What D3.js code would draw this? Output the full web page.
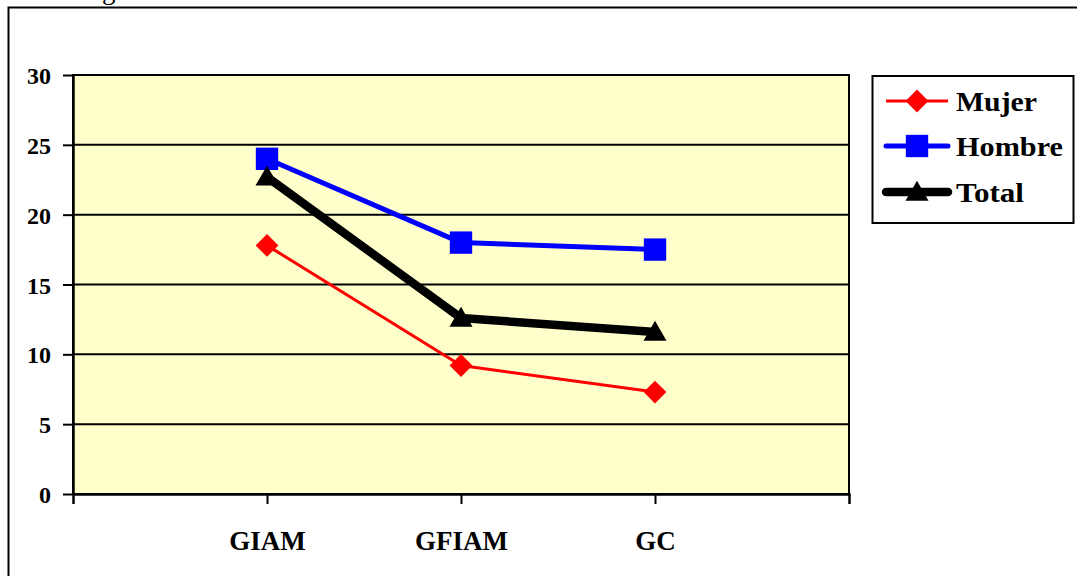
<!DOCTYPE html>
<html>
<head>
<meta charset="utf-8">
<script src="https://cdn.jsdelivr.net/npm/d3@7"></script>
<style>
  html, body { margin: 0; padding: 0; background: #fff; }
  svg { display: block; }
  svg text { font-family: "Liberation Serif", "DejaVu Serif", serif !important; font-weight: bold; fill: #000; }
</style>
</head>
<body>
<script>
// Categories and series values
const categories = ["GIAM", "GFIAM", "GC"];
const mujer  = [17.8, 9.2, 7.3];
const hombre = [24.0, 18.0, 17.5];
const total  = [22.7, 12.6, 11.6];
const yTicks = [0, 5, 10, 15, 20, 25, 30];
const seriesNames = ["Mujer", "Hombre", "Total"];

const W = 1077, H = 576;
const plot = { left: 73, right: 849, top: 75, bottom: 494 };
const FONT = "'Liberation Serif', 'DejaVu Serif', serif";

const svg = d3.select("body").append("svg")
  .attr("width", W).attr("height", H);

// Outer frame (extends past the bottom and right edges)
svg.append("path")
  .attr("d", `M8.5,${H + 5}V7.5H${W + 5}`)
  .attr("fill", "none").attr("stroke", "#000").attr("stroke-width", 2);

// Tail of the heading line above the frame
svg.append("text").attr("x", 102).attr("y", -1)
  .style("font-size", "27px").style("font-weight", "normal").text("g");

const x = d3.scalePoint().domain(categories).range([plot.left, plot.right]).padding(1);
const y = d3.scaleLinear().domain([0, 30]).range([plot.bottom, plot.top]);

// Plot background
svg.append("rect")
  .attr("x", plot.left).attr("y", plot.top)
  .attr("width", plot.right - plot.left).attr("height", plot.bottom - plot.top)
  .attr("fill", "#FFFFCC").attr("stroke", "#000").attr("stroke-width", 2);

// Horizontal gridlines
svg.append("g").selectAll("line")
  .data(yTicks.filter(d => d > 0))
  .join("line")
  .attr("x1", plot.left).attr("x2", plot.right)
  .attr("y1", d => y(d)).attr("y2", d => y(d))
  .attr("stroke", "#000").attr("stroke-width", 2);

// Y axis
const yAxis = svg.append("g")
  .attr("transform", `translate(${plot.left},0)`)
  .call(d3.axisLeft(y).tickValues(yTicks).tickSize(10).tickSizeOuter(0).tickPadding(12));
yAxis.attr("font-family", FONT);
yAxis.select(".domain").attr("stroke-width", 2.5);
yAxis.selectAll(".tick line").attr("stroke-width", 2);
yAxis.selectAll(".tick text")
  .style("font-size", "24px")
  .attr("dy", "0.36em");

// X axis: ticks at category positions plus the two ends
const xAxis = svg.append("g")
  .attr("transform", `translate(0,${plot.bottom})`)
  .call(d3.axisBottom(x).tickSize(10).tickSizeOuter(10).tickPadding(0));
xAxis.attr("font-family", FONT);
xAxis.select(".domain").attr("stroke-width", 2.5);
xAxis.selectAll(".tick line").attr("stroke-width", 2);
xAxis.selectAll(".tick text")
  .style("font-size", "27px")
  .attr("y", 56).attr("dy", 0);

// Marker shapes
const sym = {
  diamond: d3.symbol().type(d3.symbolSquare).size(260),
  square: d3.symbol().type(d3.symbolSquare).size(500),
  triangle: d3.symbol().type(d3.symbolTriangle).size(230)
};

const series = [
  { name: seriesNames[0], values: mujer,  color: "#FF0000", width: 3, marker: "diamond" },
  { name: seriesNames[1], values: hombre, color: "#0000FF", width: 5, marker: "square" },
  { name: seriesNames[2], values: total,  color: "#000000", width: 8.5, marker: "triangle" }
];

function drawMarker(g, s, cx, cy) {
  const p = g.append("path")
    .attr("d", sym[s.marker]())
    .attr("fill", s.color);
  if (s.marker === "diamond") p.attr("transform", `translate(${cx},${cy}) rotate(45)`);
  else if (s.marker === "triangle") p.attr("transform", `translate(${cx},${cy + 2})`);
  else p.attr("transform", `translate(${cx},${cy})`);
}

const line = d3.line().x((d, i) => x(categories[i])).y(d => y(d));

series.forEach(s => {
  const g = svg.append("g");
  g.append("path")
    .attr("d", line(s.values))
    .attr("fill", "none")
    .attr("stroke", s.color)
    .attr("stroke-width", s.width)
    .attr("stroke-linejoin", "round");
  s.values.forEach((v, i) => drawMarker(g, s, x(categories[i]), y(v)));
});

// Legend
const lg = svg.append("g");
lg.append("rect")
  .attr("x", 872.5).attr("y", 76).attr("width", 201).attr("height", 147)
  .attr("fill", "#fff").attr("stroke", "#000").attr("stroke-width", 2);
const legendRows = [101, 146, 192];
const legendWidths = [81, 107, 68];
series.forEach((s, i) => {
  const cy = legendRows[i];
  lg.append("line")
    .attr("x1", 886).attr("x2", 948).attr("y1", cy).attr("y2", cy)
    .attr("stroke", s.color).attr("stroke-width", s.width)
    .attr("stroke-linecap", s.marker === "diamond" ? "butt" : "round");
  drawMarker(lg, s, 917, cy);
  lg.append("text")
    .attr("x", 956).attr("y", cy + 10)
    .style("font-size", "27px")
    .attr("textLength", legendWidths[i])
    .attr("lengthAdjust", "spacingAndGlyphs")
    .text(s.name);
});
</script>
</body>
</html>
